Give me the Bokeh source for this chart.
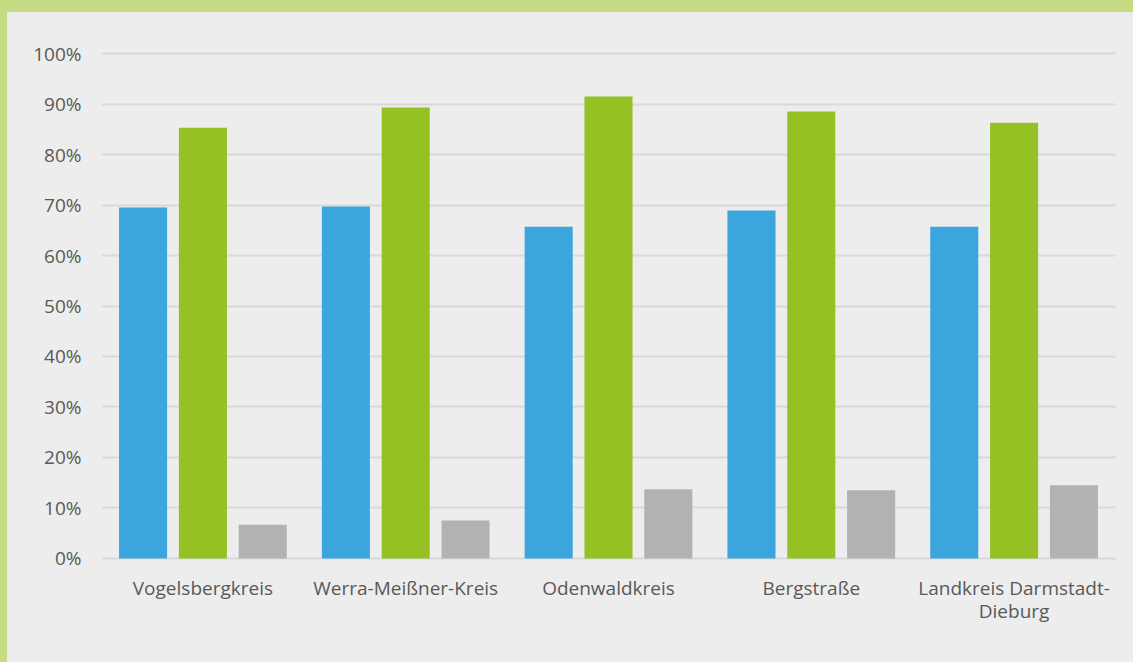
from bokeh.plotting import figure
from bokeh.models import ColumnDataSource, NumeralTickFormatter, FixedTicker
from bokeh.transform import dodge
from bokeh.layouts import column
from bokeh.embed import file_html
from bokeh.resources import INLINE

categories = ["Vogelsbergkreis", "Werra-Meißner-Kreis", "Odenwaldkreis", "Bergstraße",
              "Landkreis Darmstadt-\nDieburg"]
series_blue = [0.695, 0.697, 0.657, 0.689, 0.657]
series_green = [0.853, 0.893, 0.915, 0.885, 0.863]
series_gray = [0.067, 0.075, 0.137, 0.135, 0.145]
y_ticks = [0.0, 0.1, 0.2, 0.3, 0.4, 0.5, 0.6, 0.7, 0.8, 0.9, 1.0]

src = ColumnDataSource(dict(cat=categories, blue=series_blue, green=series_green, gray=series_gray))

BG = "#EDEDED"
GREEN_BORDER = "#C5DB84"
TEXT = "#595959"

p = figure(width=1126, height=650, x_range=categories, y_range=(-0.004, 1.004),
           output_backend="svg", toolbar_location=None,
           background_fill_color=BG, border_fill_color=BG, outline_line_color=None,
           min_border_left=94, min_border_right=18, min_border_top=39, min_border_bottom=102)
p.margin = (12, 0, 0, 7)

w = 0.237
p.vbar(x=dodge("cat", -0.295, range=p.x_range), top="blue", width=w, source=src,
       fill_color="#3AA6DD", line_color=None)
p.vbar(x=dodge("cat", 0.0, range=p.x_range), top="green", width=w, source=src,
       fill_color="#95C125", line_color=None)
p.vbar(x=dodge("cat", 0.295, range=p.x_range), top="gray", width=w, source=src,
       fill_color="#B2B2B2", line_color=None)

p.x_range.range_padding = 0
p.xgrid.grid_line_color = None
p.ygrid.grid_line_color = "#D9D9D9"
p.ygrid.grid_line_width = 2
p.ygrid.level = "underlay"

p.yaxis.ticker = FixedTicker(ticks=y_ticks)
p.yaxis.formatter = NumeralTickFormatter(format="0%")
for ax in (p.xaxis[0], p.yaxis[0]):
    ax.axis_line_color = None
    ax.major_tick_line_color = None
    ax.minor_tick_line_color = None
    ax.major_label_text_color = TEXT
    ax.major_label_text_font = "Open Sans"
    ax.major_label_text_font_size = "19px"
p.yaxis.major_label_standoff = 14
p.xaxis.major_label_standoff = 8
p.xaxis.major_label_text_line_height = 0.92

bg_css = (f"linear-gradient({GREEN_BORDER},{GREEN_BORDER}) top left / 100% 12px no-repeat, "
          f"linear-gradient({GREEN_BORDER},{GREEN_BORDER}) top left / 7px 100% no-repeat, {BG}")
layout = column(p, styles={"background": bg_css})
open("out.html", "w").write(file_html(layout, INLINE))
